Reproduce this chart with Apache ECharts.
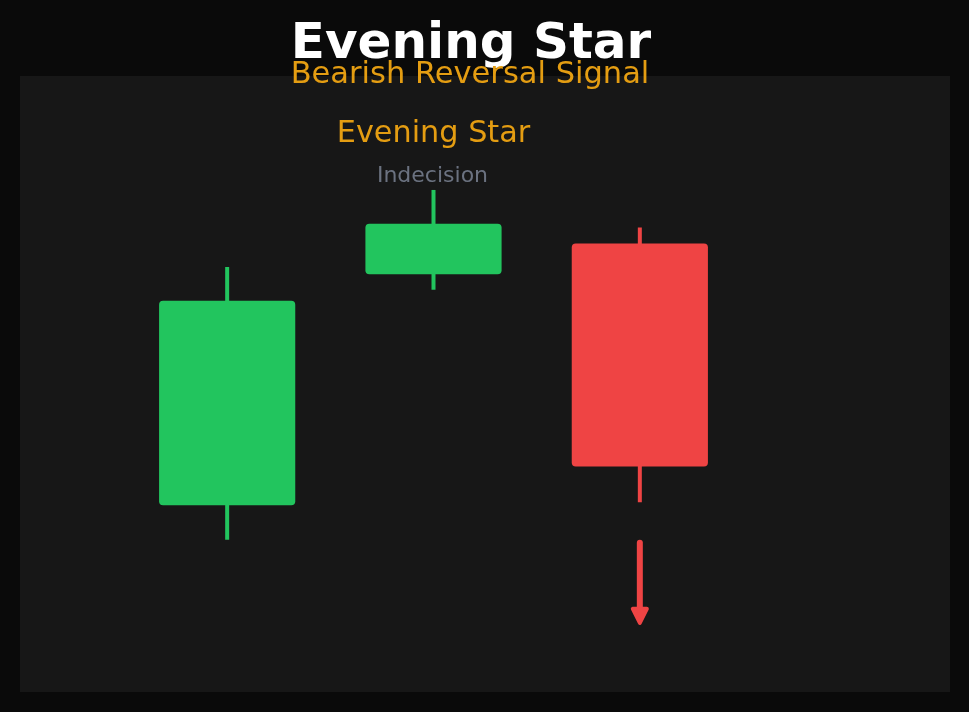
<!DOCTYPE html>
<html>
<head>
<meta charset="utf-8">
<script src="https://cdn.jsdelivr.net/npm/echarts@6/dist/echarts.min.js"></script>
<style>
html,body{margin:0;padding:0;background:#0a0a0a;}
#chart{width:969px;height:712px;}
</style>
</head>
<body>
<div id="chart"></div>
<script>
// Data
const categories = ['Day 1', 'Day 2', 'Day 3'];
const opens  = [30.3, 67.8, 72.8];
const closes = [63.5, 76.0, 36.6];
const lows   = [24.7, 65.3, 30.8];
const highs  = [69.0, 81.5, 75.4];
const arrowCategory = 2;
const arrowFrom = 24.7;
const arrowTo = 10.9;
const titleText = 'Evening Star';
const subtitleText = 'Bearish Reversal Signal';
const patternLabel = 'Evening Star';
const starLabel = 'Indecision';

const GREEN = '#22c55e', RED = '#ef4444', AMBER = '#e49d12', GRAY = '#6b7280';
const FONT = '"DejaVu Sans", sans-serif';

const candleData = categories.map((c, i) => [i, opens[i], closes[i], lows[i], highs[i]]);

const chart = echarts.init(document.getElementById('chart'));
chart.setOption({
  backgroundColor: '#0a0a0a',
  animation: false,
  graphic: [
    { type: 'rect', z: -10, shape: { x: 20, y: 76, width: 930, height: 616 }, style: { fill: '#171717' } },
    { type: 'text', z: 10, x: 471, y: 45, style: { text: titleText, fill: '#ffffff', font: 'bold 50px ' + FONT, textAlign: 'center', textVerticalAlign: 'middle' } },
    { type: 'text', z: 10, x: 470, y: 75, style: { text: subtitleText, fill: AMBER, font: '30.5px ' + FONT, textAlign: 'center', textVerticalAlign: 'middle' } },
    { type: 'text', z: 10, x: 433.5, y: 134.5, style: { text: patternLabel, fill: AMBER, font: '30.3px ' + FONT, textAlign: 'center', textVerticalAlign: 'middle' } },
    { type: 'text', z: 10, x: 432.5, y: 176.5, style: { text: starLabel, fill: GRAY, font: '22px ' + FONT, textAlign: 'center', textVerticalAlign: 'middle' } }
  ],
  grid: { left: 124, right: 226, top: 76, bottom: 20 },
  xAxis: { type: 'category', data: categories, show: false, boundaryGap: true },
  yAxis: { type: 'value', min: 0, max: 100, show: false, splitLine: { show: false } },
  series: [
    {
      type: 'custom',
      data: candleData,
      encode: { x: 0, y: [1, 2, 3, 4] },
      renderItem: function (params, api) {
        const i = api.value(0);
        const o = api.value(1), c = api.value(2), l = api.value(3), h = api.value(4);
        const pO = api.coord([i, o]), pC = api.coord([i, c]);
        const pL = api.coord([i, l]), pH = api.coord([i, h]);
        const w = api.size([1, 0])[0] * 0.66;
        const color = c >= o ? GREEN : RED;
        const top = Math.min(pO[1], pC[1]), bot = Math.max(pO[1], pC[1]);
        return {
          type: 'group',
          children: [
            { type: 'line', shape: { x1: pH[0], y1: pH[1], x2: pL[0], y2: pL[1] }, style: { stroke: color, lineWidth: 4 } },
            { type: 'rect', shape: { x: pO[0] - w / 2, y: top, width: w, height: bot - top, r: 4 }, style: { fill: color } }
          ]
        };
      }
    },
    {
      type: 'custom',
      data: [[arrowCategory, arrowFrom, arrowTo]],
      encode: { x: 0, y: [1, 2] },
      renderItem: function (params, api) {
        const i = api.value(0);
        const p1 = api.coord([i, api.value(1)]);
        const p2 = api.coord([i, api.value(2)]);
        const x = p1[0];
        const tip = p2[1] - 2;
        return {
          type: 'group',
          children: [
            { type: 'line', shape: { x1: x, y1: p1[1] + 3, x2: x, y2: tip - 10 }, style: { stroke: RED, lineWidth: 6, lineCap: 'round' } },
            { type: 'polygon', shape: { points: [[x - 7, tip - 14], [x + 7, tip - 14], [x, tip]] }, style: { fill: RED, stroke: RED, lineWidth: 4, lineJoin: 'round' } }
          ]
        };
      }
    }
  ]
});
</script>
</body>
</html>
